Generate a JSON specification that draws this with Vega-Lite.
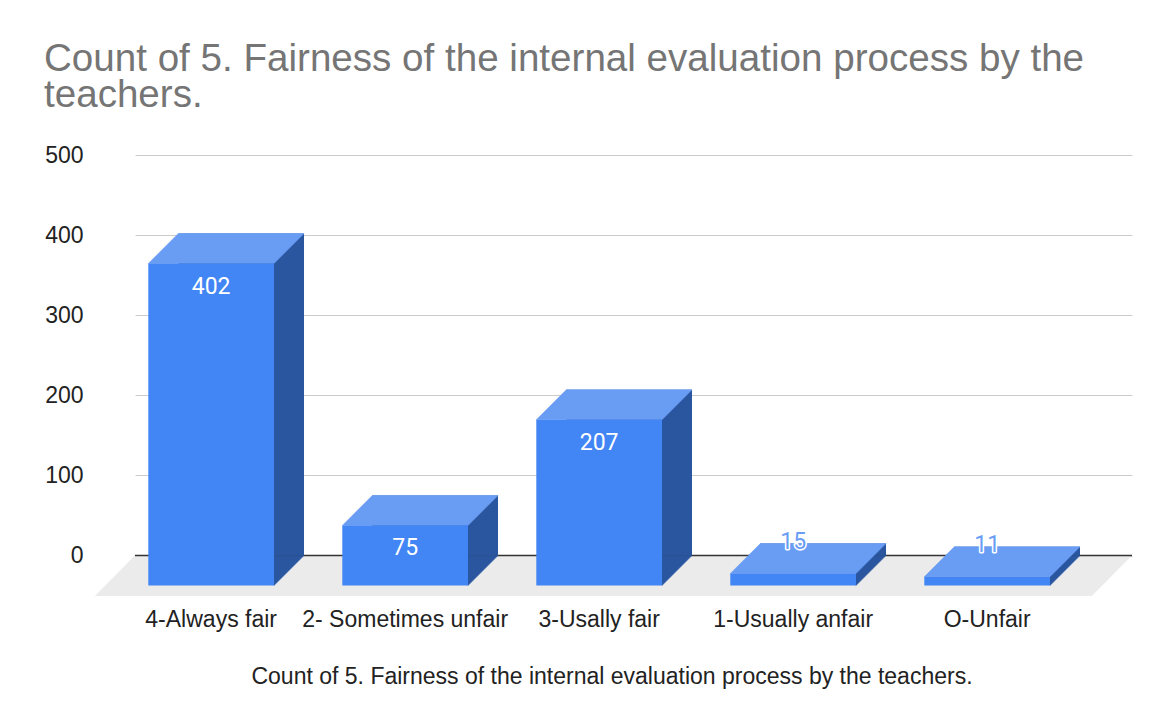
{
  "$schema": "https://vega.github.io/schema/vega-lite/v6.json",
  "width": 997,
  "height": 441,
  "autosize": {"type": "none"},
  "padding": {"left": 135, "top": 155, "right": 27, "bottom": 126},
  "background": "white",
  "title": {
    "text": ["Count of 5. Fairness of the internal evaluation process by the", "teachers."],
    "anchor": "start",
    "frame": "group",
    "font": "Liberation Sans",
    "fontSize": 38.6,
    "fontWeight": "normal",
    "color": "#757575",
    "lineHeight": 36.6,
    "dx": -91,
    "offset": 28
  },
  "data": {
    "values": [
      {"cat": "4-Always fair", "v": 402},
      {"cat": "2- Sometimes unfair", "v": 75},
      {"cat": "3-Usally fair", "v": 207},
      {"cat": "1-Usually anfair", "v": 15},
      {"cat": "O-Unfair", "v": 11}
    ]
  },
  "layer": [
    {
      "data": {"values": [{"base": 0}]},
      "mark": {
        "type": "point",
        "shape": "M -76.3 0 L 920.7 0 L 880.7 40.5 L -116.3 40.5 Z",
        "size": 4,
        "filled": true,
        "fill": "#ebebeb",
        "stroke": null,
        "opacity": 1
      },
      "encoding": {
        "x": {
          "datum": "4-Always fair",
          "type": "nominal",
          "scale": {
            "domain": ["4-Always fair", "2- Sometimes unfair", "3-Usally fair", "1-Usually anfair", "O-Unfair"],
            "paddingInner": 0.352,
            "paddingOuter": 0.2456,
            "align": 0.1396
          },
          "axis": {
            "title": "Count of 5. Fairness of the internal evaluation process by the teachers.",
            "titleFont": "Liberation Sans",
            "titleFontSize": 23,
            "titleFontWeight": "normal",
            "titleColor": "#222222",
            "titleBaseline": "middle",
            "titleAnchor": "middle",
            "titleX": 476.5,
            "titleY": 80.5,
            "labelFont": "Liberation Sans",
            "labelFontSize": 23,
            "labelColor": "#222222",
            "labelAngle": 0,
            "labelBaseline": "middle",
            "labelPadding": 23,
            "labelLimit": 400,
            "ticks": false,
            "tickSize": 0,
            "domain": false,
            "grid": false
          }
        },
        "y": {
          "field": "base",
          "type": "quantitative",
          "scale": {"domain": [-50.5, 500], "nice": false, "zero": false},
          "axis": {
            "title": null,
            "values": [0, 100, 200, 300, 400, 500],
            "labelFont": "Liberation Sans",
            "labelFontSize": 23,
            "labelColor": "#222222",
            "labelPadding": 52,
            "ticks": false,
            "tickSize": 0,
            "domain": false,
            "grid": true,
            "gridColor": "#cccccc",
            "gridWidth": 1
          }
        }
      }
    },
    {
      "data": {"values": [{"base": 0}]},
      "mark": {"type": "rule", "color": "#333333", "strokeWidth": 1.5},
      "encoding": {"y": {"field": "base", "type": "quantitative"}}
    },
    {
      "mark": {"type": "bar", "fill": "#2a56a0", "xOffset": 30, "x2Offset": 30},
      "encoding": {
        "x": {"field": "cat", "type": "nominal", "sort": null},
        "y": {"field": "v", "type": "quantitative"},
        "y2": {"datum": 0}
      }
    },
    {
      "mark": {
        "type": "point",
        "shape": "M 62.85 0 L 62.85 30 L 92.85 0 Z",
        "size": 4,
        "filled": true,
        "fill": "#2a56a0",
        "stroke": "#2a56a0",
        "strokeWidth": 0.5,
        "opacity": 1
      },
      "encoding": {
        "x": {"field": "cat", "type": "nominal", "sort": null},
        "y": {"datum": 0, "type": "quantitative"}
      }
    },
    {
      "mark": {
        "type": "point",
        "shape": "M -62.85 30 L 62.85 30 L 92.85 0 L -32.85 0 Z",
        "size": 4,
        "filled": true,
        "fill": "#699df4",
        "stroke": "#699df4",
        "strokeWidth": 0.5,
        "opacity": 1
      },
      "encoding": {
        "x": {"field": "cat", "type": "nominal", "sort": null},
        "y": {"field": "v", "type": "quantitative"}
      }
    },
    {
      "mark": {"type": "bar", "fill": "#4285f4", "yOffset": 30, "y2Offset": 30},
      "encoding": {
        "x": {"field": "cat", "type": "nominal", "sort": null},
        "y": {"field": "v", "type": "quantitative"},
        "y2": {"datum": 0}
      }
    },
    {
      "transform": [{"filter": "datum.v >= 50"}],
      "mark": {
        "type": "text",
        "font": "Roboto",
        "fontSize": 23,
        "fill": "#ffffff",
        "baseline": "middle",
        "align": "center",
        "dy": 53
      },
      "encoding": {
        "x": {"field": "cat", "type": "nominal", "sort": null},
        "y": {"field": "v", "type": "quantitative"},
        "text": {"field": "v", "type": "quantitative"}
      }
    },
    {
      "transform": [{"filter": "datum.v < 50"}],
      "mark": {
        "type": "text",
        "font": "Roboto",
        "fontSize": 23,
        "fill": "#ffffff",
        "stroke": "#ffffff",
        "strokeWidth": 3,
        "strokeJoin": "round",
        "baseline": "middle",
        "align": "center",
        "dy": -2
      },
      "encoding": {
        "x": {"field": "cat", "type": "nominal", "sort": null},
        "y": {"field": "v", "type": "quantitative"},
        "text": {"field": "v", "type": "quantitative"}
      }
    },
    {
      "transform": [{"filter": "datum.v < 50"}],
      "mark": {
        "type": "text",
        "font": "Roboto",
        "fontSize": 23,
        "fill": "#6a9df4",
        "baseline": "middle",
        "align": "center",
        "dy": -2
      },
      "encoding": {
        "x": {"field": "cat", "type": "nominal", "sort": null},
        "y": {"field": "v", "type": "quantitative"},
        "text": {"field": "v", "type": "quantitative"}
      }
    }
  ],
  "config": {"view": {"stroke": null}}
}
